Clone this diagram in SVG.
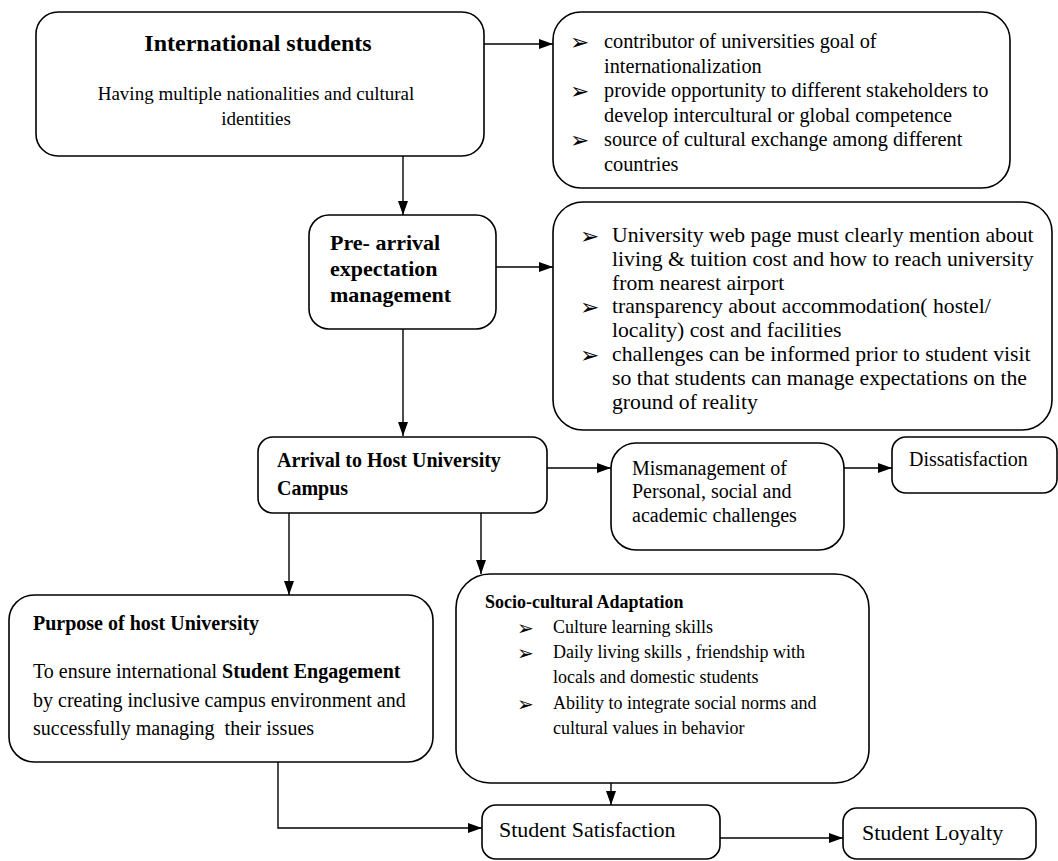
<svg xmlns="http://www.w3.org/2000/svg" width="1058" height="861" viewBox="0 0 1058 861">
<style>
.box{fill:#fff;stroke:#000;stroke-width:1.6}
.t{font-family:"Liberation Serif","Times New Roman",serif;font-size:20px;fill:#000}
.b{font-weight:bold}
.bl{font-family:"DejaVu Sans",sans-serif;font-size:23px;fill:#000}
.c{fill:none;stroke:#000;stroke-width:1.4}
</style>
<defs>
<marker id="ah" markerUnits="userSpaceOnUse" markerWidth="14" markerHeight="10" refX="14" refY="5" orient="auto">
<path d="M0,0 L14,5 L0,10 z" fill="#000"/>
</marker>
</defs>
<rect width="1058" height="861" fill="#fff"/>

<g id="connectors">
<path class="c" d="M484,44 H553" marker-end="url(#ah)"/>
<path class="c" d="M403,156 V215" marker-end="url(#ah)"/>
<path class="c" d="M496,267 H553" marker-end="url(#ah)"/>
<path class="c" d="M403,329 V436" marker-end="url(#ah)"/>
<path class="c" d="M547,468 H611" marker-end="url(#ah)"/>
<path class="c" d="M844,468 H892" marker-end="url(#ah)"/>
<path class="c" d="M289,513 V595" marker-end="url(#ah)"/>
<path class="c" d="M481,513 V574" marker-end="url(#ah)"/>
<path class="c" d="M278,762 V828 H482" marker-end="url(#ah)"/>
<path class="c" d="M611,783 V805" marker-end="url(#ah)"/>
<path class="c" d="M720,838 H843" marker-end="url(#ah)"/>
</g>

<g id="international-students">
<rect class="box" x="36" y="12" width="448" height="144" rx="22"/>
<text class="t b" x="258" y="51" text-anchor="middle" style="font-size:24px">International students</text>
<text class="t" x="256" y="100" text-anchor="middle" style="font-size:19px">Having multiple nationalities and cultural</text>
<text class="t" x="256" y="125" text-anchor="middle" style="font-size:19px">identities</text>
</g>

<g id="contributions">
<rect class="box" x="553" y="12" width="457" height="176" rx="28"/>
<text class="bl" x="570" y="50">➢</text>
<text class="bl" x="570" y="99">➢</text>
<text class="bl" x="570" y="148">➢</text>
<text class="t" x="604" y="48" style="font-size:20.3px">contributor of universities goal of</text>
<text class="t" x="604" y="72.6" style="font-size:20.3px">internationalization</text>
<text class="t" x="604" y="97.2" style="font-size:20.3px">provide opportunity to different stakeholders to</text>
<text class="t" x="604" y="121.8" style="font-size:20.3px">develop intercultural or global competence</text>
<text class="t" x="604" y="146.4" style="font-size:20.3px">source of cultural exchange among different</text>
<text class="t" x="604" y="171" style="font-size:20.3px">countries</text>
</g>

<g id="pre-arrival">
<rect class="box" x="309" y="215" width="187" height="114" rx="20"/>
<text class="t b" x="330" y="250" style="font-size:22px">Pre- arrival</text>
<text class="t b" x="330" y="276" style="font-size:22px">expectation</text>
<text class="t b" x="330" y="302" style="font-size:22px">management</text>
</g>

<g id="pre-arrival-details">
<rect class="box" x="553" y="202" width="499" height="228" rx="30"/>
<text class="bl" x="580" y="244">➢</text>
<text class="bl" x="580" y="315">➢</text>
<text class="bl" x="580" y="363">➢</text>
<text class="t" x="612" y="242" style="font-size:21.7px">University web page must clearly mention about</text>
<text class="t" x="612" y="266" style="font-size:21.7px">living &amp; tuition cost and how to reach university</text>
<text class="t" x="612" y="290" style="font-size:21.7px">from nearest airport</text>
<text class="t" x="612" y="313" style="font-size:21.7px">transparency about accommodation( hostel/</text>
<text class="t" x="612" y="337" style="font-size:21.7px">locality) cost and facilities</text>
<text class="t" x="612" y="361" style="font-size:21.7px">challenges can be informed prior to student visit</text>
<text class="t" x="612" y="385" style="font-size:21.7px">so that students can manage expectations on the</text>
<text class="t" x="612" y="409" style="font-size:21.7px">ground of reality</text>
</g>

<g id="arrival">
<rect class="box" x="258" y="437" width="289" height="76" rx="15"/>
<text class="t b" x="277" y="467">Arrival to Host University</text>
<text class="t b" x="277" y="495">Campus</text>
</g>

<g id="mismanagement">
<rect class="box" x="611" y="443" width="233" height="107" rx="25"/>
<text class="t" x="632" y="475">Mismanagement of</text>
<text class="t" x="632" y="498">Personal, social and</text>
<text class="t" x="632" y="522">academic challenges</text>
</g>

<g id="dissatisfaction">
<rect class="box" x="892" y="437" width="165" height="56" rx="14"/>
<text class="t" x="909" y="466">Dissatisfaction</text>
</g>

<g id="purpose">
<rect class="box" x="9" y="595" width="424" height="167" rx="25"/>
<text class="t b" x="33" y="630">Purpose of host University</text>
<text class="t" x="33" y="678">To ensure international <tspan class="b">Student Engagement</tspan></text>
<text class="t" x="33" y="707">by creating inclusive campus environment and</text>
<text class="t" x="33" y="735">successfully managing&#160; their issues</text>
</g>

<g id="socio-cultural">
<rect class="box" x="456" y="574" width="413" height="209" rx="34"/>
<text class="t b" x="485" y="608" style="font-size:18px">Socio-cultural Adaptation</text>
<text class="bl" x="517" y="635" style="font-size:20px">➢</text>
<text class="bl" x="517" y="660" style="font-size:20px">➢</text>
<text class="bl" x="517" y="711" style="font-size:20px">➢</text>
<text class="t" x="553" y="633" style="font-size:18px">Culture learning skills</text>
<text class="t" x="553" y="658" style="font-size:18px">Daily living skills , friendship with</text>
<text class="t" x="553" y="683" style="font-size:18px">locals and domestic students</text>
<text class="t" x="553" y="709" style="font-size:18px">Ability to integrate social norms and</text>
<text class="t" x="553" y="734" style="font-size:18px">cultural values in behavior</text>
</g>

<g id="satisfaction">
<rect class="box" x="482" y="805" width="238" height="54" rx="14"/>
<text class="t" x="499" y="837" style="font-size:22px">Student Satisfaction</text>
</g>

<g id="loyalty">
<rect class="box" x="843" y="808" width="193" height="51" rx="14"/>
<text class="t" x="862" y="840" style="font-size:22px">Student Loyalty</text>
</g>
</svg>
